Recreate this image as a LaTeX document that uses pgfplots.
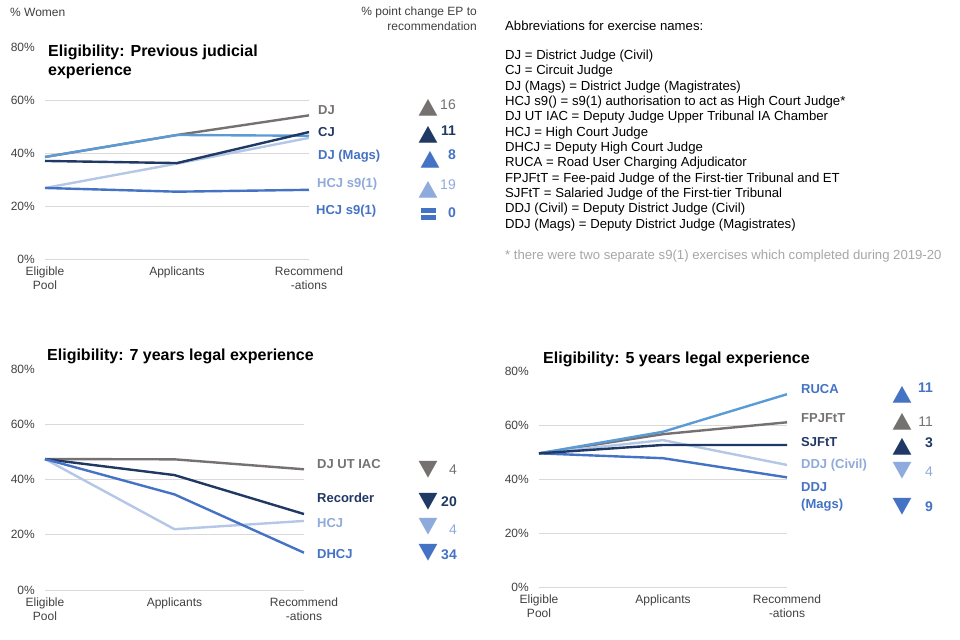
\documentclass[border=0pt]{standalone}
\usepackage{pgfplots}
\pgfplotsset{compat=1.18}
\usepackage{fontspec}
\setmainfont{Liberation Sans}
\newfontfamily\symfont{DejaVu Sans}

\definecolor{cgrey}{HTML}{767171}
\definecolor{cnavy}{HTML}{203864}
\definecolor{cblue}{HTML}{4472C4}
\definecolor{csky}{HTML}{5B9BD5}
\definecolor{cpale}{HTML}{B4C7E7}
\definecolor{cpaletext}{HTML}{8FAADC}
\definecolor{ctick}{HTML}{404040}
\definecolor{cgrid}{HTML}{D9D9D9}
\definecolor{cnote}{HTML}{A6A6A6}

\pgfplotsset{
  panel/.style={
    scale only axis, anchor=south west, clip=false,
    xmin=0, xmax=2, ymin=0, ymax=80,
    axis line style={draw=none},
    major tick length=0pt,
    xtick={0,1,2},
    xticklabels={{Eligible\\Pool},{Applicants},{Recommend\\-ations}},
    ytick={0,20,40,60}, yticklabels={0\%,20\%,40\%,60\%},
    extra y ticks={80}, extra y tick labels={80\%},
    extra y tick style={grid=none},
    ymajorgrids, grid style={cgrid, line width=0.9bp},
    tick label style={font=\fontsize{12bp}{14bp}\selectfont, text=ctick},
    xticklabel style={align=center, inner sep=0pt, yshift=-8bp},
    yticklabel style={inner sep=0pt, xshift=-10bp},
    every axis plot/.append style={line width=2.4bp, no marks},
  }
}

% label styles
\tikzset{
  lab/.style={anchor=west, inner sep=0pt, font=\fontsize{13bp}{15bp}\selectfont\bfseries},
  num/.style={anchor=east, inner sep=0pt, font=\fontsize{14bp}{16bp}\selectfont},
  numb/.style={num, font=\fontsize{14bp}{16bp}\selectfont\bfseries},
  tri/.style={inner sep=0pt, xscale=1.12, font=\symfont\fontsize{22bp}{22bp}\selectfont},
  ttl/.style={anchor=west, inner sep=0pt, font=\fontsize{16bp}{19bp}\selectfont\bfseries},
  txt/.style={anchor=west, inner sep=0pt, font=\fontsize{13.15bp}{15bp}\selectfont},
}

\begin{document}
\begin{tikzpicture}
\path[use as bounding box] (0,0) rectangle (960bp,640bp);

% ---- top left: previous judicial experience
\begin{axis}[panel, at={(45bp,381bp)}, width=264bp, height=212bp]
  \addplot[cgrey] coordinates {(0,38.5) (1,46.8) (2,54.2)};
  \addplot[csky] coordinates {(0,38.5) (1,46.8) (2,46.5)};
  \addplot[cpale] coordinates {(0,26.8) (1,36.0) (2,45.7)};
  \addplot[cnavy] coordinates {(0,37.0) (1,36.2) (2,47.9)};
  \addplot[cblue] coordinates {(0,26.8) (1,25.4) (2,26.1)};
\end{axis}

\node[txt, font=\fontsize{12bp}{14bp}\selectfont, text=ctick] at (10bp,628bp) {\% Women};
\node[anchor=east, inner sep=0pt, font=\fontsize{12bp}{14bp}\selectfont, text=ctick] at (477bp,628bp) {\% point change EP to};
\node[anchor=east, inner sep=0pt, font=\fontsize{12bp}{14bp}\selectfont, text=ctick] at (477bp,614bp) {recommendation};
\node[ttl] at (48bp,588bp) {Eligibility: Previous judicial};
\node[ttl] at (48bp,569bp) {experience};

\node[lab, text=cgrey] at (318bp,530bp) {DJ};
\node[lab, text=cnavy] at (318bp,508bp) {CJ};
\node[lab, text=cblue] at (318bp,484bp) {DJ (Mags)};
\node[lab, text=cpaletext] at (317bp,456bp) {HCJ s9(1)};
\node[lab, text=cblue] at (316bp,429bp) {HCJ s9(1)};

\node[tri, text=cgrey] at (428bp,532bp) {▲};
\node[tri, text=cnavy] at (428bp,505bp) {▲};
\node[tri, text=cblue] at (430bp,480bp) {▲};
\node[tri, text=cpaletext] at (428bp,450bp) {▲};
% "no change" sign: two bars
\fill[cblue] (421bp,426.8bp) rectangle (436bp,431.8bp);
\fill[cblue] (421bp,419.5bp) rectangle (436bp,425.3bp);
\node[num, text=cgrey] at (456bp,535bp) {16};
\node[numb, text=cnavy] at (456bp,509bp) {11};
\node[numb, text=cblue] at (456bp,485bp) {8};
\node[num, text=cpaletext] at (456bp,455bp) {19};
\node[numb, text=cblue] at (456bp,427bp) {0};

% ---- abbreviations
\node[txt] at (505bp,614bp) {Abbreviations for exercise names:};
\node[txt] at (505bp,584bp) {DJ = District Judge (Civil)};
\node[txt] at (505bp,568.6bp) {CJ = Circuit Judge};
\node[txt] at (505bp,553.3bp) {DJ (Mags) = District Judge (Magistrates)};
\node[txt] at (505bp,538bp) {HCJ s9() = s9(1) authorisation to act as High Court Judge*};
\node[txt] at (505bp,522.6bp) {DJ UT IAC = Deputy Judge Upper Tribunal IA Chamber};
\node[txt] at (505bp,507.3bp) {HCJ = High Court Judge};
\node[txt] at (505bp,492bp) {DHCJ = Deputy High Court Judge};
\node[txt] at (505bp,476.6bp) {RUCA = Road User Charging Adjudicator};
\node[txt] at (505bp,461.3bp) {FPJFtT = Fee-paid Judge of the First-tier Tribunal and ET};
\node[txt] at (505bp,446bp) {SJFtT = Salaried Judge of the First-tier Tribunal};
\node[txt] at (505bp,430.6bp) {DDJ (Civil) = Deputy District Judge (Civil)};
\node[txt] at (505bp,415.3bp) {DDJ (Mags) = Deputy District Judge (Magistrates)};
\node[txt, text=cnote] at (505bp,384bp) {* there were two separate s9(1) exercises which completed during 2019-20};

% ---- bottom left: 7 years legal experience
\begin{axis}[panel, at={(45bp,50bp)}, width=259bp, height=221bp]
  \addplot[cgrey] coordinates {(0,47.4) (1,47.3) (2,43.7)};
  \addplot[cpale] coordinates {(0,47.4) (1,22.0) (2,25.0)};
  \addplot[cnavy] coordinates {(0,47.4) (1,41.6) (2,27.5)};
  \addplot[cblue] coordinates {(0,47.4) (1,34.6) (2,13.5)};
\end{axis}

\node[ttl] at (47bp,284bp) {Eligibility: 7 years legal experience};
\node[lab, text=cgrey] at (317bp,176bp) {DJ UT IAC};
\node[lab, text=cnavy] at (317bp,142bp) {Recorder};
\node[lab, text=cpaletext] at (317bp,117bp) {HCJ};
\node[lab, text=cblue] at (317bp,86bp) {DHCJ};
\node[tri, text=cgrey] at (428bp,170bp) {▼};
\node[tri, text=cnavy] at (428bp,138bp) {▼};
\node[tri, text=cpaletext] at (428bp,113bp) {▼};
\node[tri, text=cblue] at (428bp,87bp) {▼};
\node[num, text=cgrey] at (457bp,170bp) {4};
\node[numb, text=cnavy] at (457bp,138bp) {20};
\node[num, text=cpaletext] at (457bp,110bp) {4};
\node[numb, text=cblue] at (457bp,85bp) {34};

% ---- bottom right: 5 years legal experience
\begin{axis}[panel, at={(539bp,53bp)}, width=248bp, height=216bp]
  \addplot[cgrey] coordinates {(0,49.5) (1,56.6) (2,61.0)};
  \addplot[cpale] coordinates {(0,49.5) (1,54.4) (2,45.2)};
  \addplot[cblue] coordinates {(0,49.5) (1,47.7) (2,40.6)};
  \addplot[csky] coordinates {(0,49.5) (1,57.5) (2,71.4)};
  \addplot[cnavy] coordinates {(0,49.5) (1,52.6) (2,52.6)};
\end{axis}

\node[ttl] at (543bp,281bp) {Eligibility: 5 years legal experience};
\node[lab, text=cblue] at (801bp,251bp) {RUCA};
\node[lab, text=cgrey] at (801bp,222bp) {FPJFtT};
\node[lab, text=cnavy] at (801bp,198bp) {SJFtT};
\node[lab, text=cpaletext] at (801bp,175bp) {DDJ (Civil)};
\node[lab, text=cblue] at (801bp,153bp) {DDJ};
\node[lab, text=cblue] at (801bp,135bp) {(Mags)};
\node[tri, text=cblue] at (902bp,245bp) {▲};
\node[tri, text=cgrey] at (902bp,218bp) {▲};
\node[tri, text=cnavy] at (902bp,193bp) {▲};
\node[tri, text=cpaletext] at (902bp,169bp) {▼};
\node[tri, text=cblue] at (902bp,133bp) {▼};
\node[numb, text=cblue] at (933bp,252bp) {11};
\node[num, text=cgrey] at (933bp,218bp) {11};
\node[numb, text=cnavy] at (933bp,197bp) {3};
\node[num, text=cpaletext] at (933bp,168bp) {4};
\node[numb, text=cblue] at (933bp,133bp) {9};
\end{tikzpicture}
\end{document}
